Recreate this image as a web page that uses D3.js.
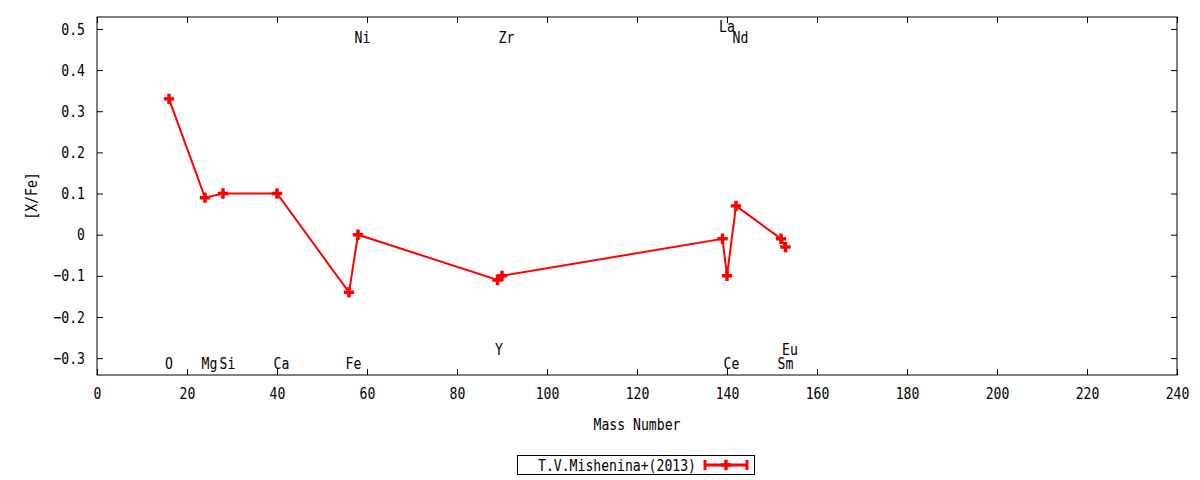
<!DOCTYPE html>
<html>
<head>
<meta charset="utf-8">
<script src="https://cdn.jsdelivr.net/npm/d3@7"></script>
<style>
  body { margin: 0; background: #fff; }
  text { font-family: "DejaVu Sans Mono", monospace; font-size: 16px; fill: #000; }
</style>
</head>
<body>
<div id="chart"></div>
<script>
// [X/Fe] vs mass number, T.V.Mishenina+(2013)

const elements = ["O", "Mg", "Si", "Ca", "Fe", "Ni", "Y", "Zr", "La", "Ce", "Nd", "Sm", "Eu"];
const massNumbers = [16, 24, 28, 40, 56, 58, 89, 90, 139, 140, 142, 152, 153];
const xFe = [0.33, 0.09, 0.10, 0.10, -0.14, 0.00, -0.11, -0.10, -0.01, -0.10, 0.07, -0.01, -0.03];

// element name labels: position in data coords
const labelX = [16, 25, 29, 41, 57, 59, 89.3, 91, 140, 141, 143, 153, 154];
const labelY = [-0.312, -0.312, -0.312, -0.312, -0.312, 0.48, -0.278, 0.48, 0.505, -0.312, 0.48, -0.312, -0.278];

const xTicks = d3.range(0, 241, 20);
const yTicks = [-0.3, -0.2, -0.1, 0, 0.1, 0.2, 0.3, 0.4, 0.5];

const seriesName = "T.V.Mishenina+(2013)";

const W = 1200, H = 480;
const margin = {top: 17, right: 23, bottom: 105, left: 97};
const width = W - margin.left - margin.right,
      height = H - margin.top - margin.bottom;
const charW = 7.9; // gnuplot's narrow mono glyph advance

const svg = d3.select("#chart")
  .append("svg")
  .attr("width", W)
  .attr("height", H);

const g = svg.append("g")
  .attr("transform", `translate(${margin.left},${margin.top})`);

const x = d3.scaleLinear().domain([0, 240]).range([0, width]);
const y = d3.scaleLinear().domain([-0.341, 0.529]).range([height, 0]);

const fmtY = d => d === 0 ? "0" : d3.format(".1f")(d);

// axes, ticks drawn inward and mirrored
g.append("g")
  .attr("transform", `translate(0,${height})`)
  .call(d3.axisBottom(x).tickValues(xTicks).tickSizeInner(-6).tickSizeOuter(0).tickPadding(13));
g.append("g")
  .call(d3.axisTop(x).tickValues(xTicks).tickSizeInner(-6).tickSizeOuter(0).tickFormat(""));
g.append("g")
  .call(d3.axisLeft(y).tickValues(yTicks).tickSizeInner(-6).tickSizeOuter(0).tickPadding(12).tickFormat(fmtY));
g.append("g")
  .attr("transform", `translate(${width},0)`)
  .call(d3.axisRight(y).tickValues(yTicks).tickSizeInner(-6).tickSizeOuter(0).tickFormat(""));

g.selectAll(".domain").remove();
g.selectAll(".tick line").attr("stroke", "#000");
g.selectAll(".tick text").attr("font-size", null).attr("font-family", null);

g.append("rect")
  .attr("width", width)
  .attr("height", height)
  .attr("fill", "none")
  .attr("stroke", "#000")
  .attr("stroke-width", 1);

// axis titles
svg.append("text")
  .attr("x", margin.left + width / 2)
  .attr("y", 430)
  .attr("text-anchor", "middle")
  .text("Mass Number");

svg.append("text")
  .attr("transform", `translate(37,${margin.top + height / 2}) rotate(-90)`)
  .attr("text-anchor", "middle")
  .text("[X/Fe]");

// element labels
g.selectAll(".elabel")
  .data(elements)
  .enter()
  .append("text")
  .attr("class", "elabel")
  .attr("x", (d, i) => x(labelX[i]))
  .attr("y", (d, i) => y(labelY[i]))
  .attr("dy", "0.35em")
  .attr("text-anchor", "middle")
  .text(d => d);

// line + markers
const pts = massNumbers.map((m, i) => [m, xFe[i]]);
const red = "#ff0000";

g.append("path")
  .datum(pts)
  .attr("fill", "none")
  .attr("stroke", red)
  .attr("stroke-width", 2)
  .attr("d", d3.line().x(d => x(d[0])).y(d => y(d[1])));

const plus = d3.symbol().type(d3.symbolCross).size(60);
g.selectAll(".pt")
  .data(pts)
  .enter()
  .append("path")
  .attr("class", "pt")
  .attr("transform", d => `translate(${x(d[0])},${y(d[1])})`)
  .attr("d", plus)
  .attr("fill", red);

// legend
const leg = svg.append("g");
leg.append("rect")
  .attr("x", 517.5).attr("y", 455.5)
  .attr("width", 237).attr("height", 19)
  .attr("fill", "#fff").attr("stroke", "#000");
leg.append("text")
  .attr("x", 696).attr("y", 465)
  .attr("dy", "0.35em")
  .attr("text-anchor", "end")
  .text(seriesName);
leg.append("line")
  .attr("x1", 705).attr("x2", 747).attr("y1", 465).attr("y2", 465)
  .attr("stroke", red).attr("stroke-width", 3);
[705, 747].forEach(px => {
  leg.append("line")
    .attr("x1", px).attr("x2", px).attr("y1", 460).attr("y2", 470)
    .attr("stroke", red).attr("stroke-width", 3);
});
leg.append("path")
  .attr("transform", "translate(726,465)")
  .attr("d", plus)
  .attr("fill", red);

// squeeze every label to the narrow glyph width
svg.selectAll("text").each(function() {
  const t = d3.select(this);
  const s = t.text();
  if (s.length) t.attr("textLength", s.length * charW).attr("lengthAdjust", "spacingAndGlyphs");
});
</script>
</body>
</html>
